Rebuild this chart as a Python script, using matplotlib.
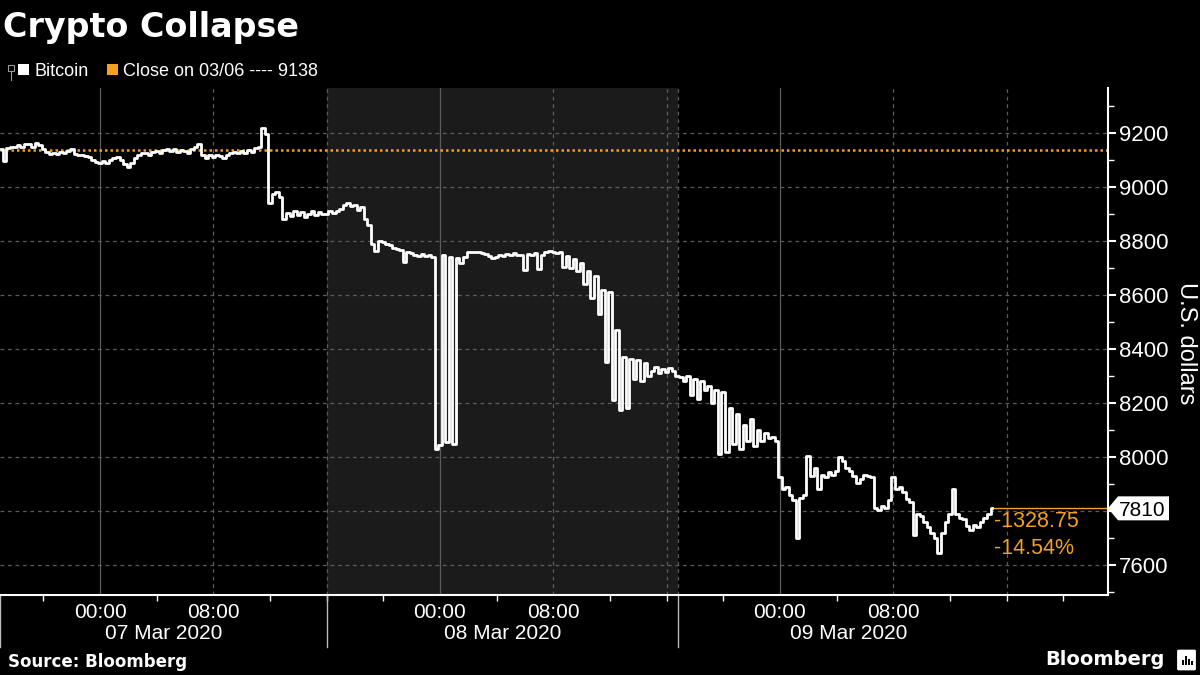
import numpy as np
import pandas as pd
import matplotlib
matplotlib.use("Agg")
import matplotlib.pyplot as plt
import matplotlib.dates as mdates
from matplotlib.patches import Rectangle, FancyBboxPatch, Polygon
from matplotlib.ticker import MultipleLocator, FixedLocator, FixedFormatter

plt.rcParams['font.family'] = ['Liberation Sans', 'DejaVu Sans']

# Bitcoin price, 15-minute samples from 06 Mar 17:00, one row per hour
btc_rows = [
    [9140, 9095, 9145, 9150], [9148, 9155, 9150, 9160], [9158, 9150, 9165, 9155],
    [9140, 9130, 9124, 9128], [9122, 9130, 9126, 9135], [9140, 9124, 9118, 9120],
    [9114, 9110, 9100, 9094],
    # 07 Mar
    [9090, 9096, 9088, 9100], [9106, 9110, 9100, 9086], [9074, 9090, 9108, 9120],
    [9125, 9128, 9120, 9130], [9135, 9128, 9138, 9140], [9134, 9142, 9130, 9138],
    [9132, 9125, 9140, 9150], [9160, 9120, 9108, 9118], [9112, 9120, 9114, 9108],
    [9118, 9125, 9130, 9126], [9132, 9126, 9136, 9130], [9145, 9150, 9218, 9195],
    [8940, 8975, 8982, 8965], [8882, 8905, 8893, 8910], [8898, 8906, 8890, 8900],
    [8910, 8898, 8906, 8902], [8900, 8912, 8904, 8910], [8920, 8935, 8942, 8930],
    [8935, 8915, 8925, 8880], [8860, 8790, 8765, 8800], [8795, 8788, 8784, 8775],
    [8770, 8766, 8722, 8760], [8755, 8750, 8745, 8752], [8745, 8748, 8742, 8030],
    # 08 Mar
    [8045, 8750, 8055, 8740], [8050, 8738, 8718, 8740], [8758, 8759, 8759, 8760],
    [8755, 8752, 8745, 8738], [8742, 8750, 8745, 8752], [8748, 8755, 8750, 8750],
    [8694, 8752, 8748, 8755], [8696, 8750, 8758, 8762], [8758, 8755, 8760, 8705],
    [8745, 8700, 8735, 8690], [8720, 8640, 8690, 8590], [8670, 8530, 8620, 8352],
    [8610, 8210, 8470, 8175], [8370, 8180, 8365, 8290], [8360, 8280, 8350, 8300],
    [8320, 8335, 8310, 8325], [8315, 8330, 8320, 8300], [8295, 8280, 8300, 8230],
    [8290, 8215, 8280, 8250], [8265, 8200, 8250, 8010], [8240, 8020, 8180, 8050],
    [8160, 8030, 8120, 8060], [8140, 8040, 8100, 8060], [8090, 8070, 8075, 8060],
    # 09 Mar
    [7925, 7880, 7890, 7860], [7840, 7700, 7850, 7860], [8005, 7930, 7960, 7880],
    [7935, 7925, 7945, 7935], [7950, 8000, 7985, 7960], [7950, 7930, 7905, 7920],
    [7935, 7930, 7925, 7810], [7805, 7820, 7810, 7840], [7925, 7880, 7890, 7870],
    [7845, 7835, 7710, 7790], [7780, 7760, 7740, 7720], [7700, 7645, 7720, 7760],
    [7790, 7880, 7790, 7775], [7770, 7745, 7730, 7750], [7740, 7760, 7775, 7790],
]
btc = [v for row in btc_rows for v in row] + [7810]
times = pd.date_range("2020-03-06 17:00", periods=len(btc), freq="15min")

prev_close = 9138.75
x_range = ("2020-03-06 16:56", "2020-03-09 23:10")
weekend = ("2020-03-07 16:00", "2020-03-08 16:50")
day_edges = ["2020-03-06 16:56", "2020-03-07 16:00", "2020-03-08 16:50", "2020-03-09 16:50"]
day_labels = ["07 Mar 2020", "08 Mar 2020", "09 Mar 2020"]
y_ticks = [7600, 7800, 8000, 8200, 8400, 8600, 8800, 9000, 9200]
y_labels = ["7600", "", "8000", "8200", "8400", "8600", "8800", "9000", "9200"]

orange = '#f5a01e'
grid_c = '#5c5c5c'

def d(s):
    return mdates.date2num(pd.Timestamp(s))

fig = plt.figure(figsize=(12, 6.75), dpi=100, facecolor='black')
ax = fig.add_axes([0, 80 / 675, 1108 / 1200, 507 / 675], facecolor='black')

ax.axvspan(d(weekend[0]), d(weekend[1]), color='#1b1b1b', zorder=0, lw=0)

# gridlines
for t in pd.date_range("2020-03-06 16:00", "2020-03-09 23:00", freq="8h"):
    if t.hour == 0:
        ax.axvline(d(t), color=grid_c, lw=0.9, zorder=1)
    else:
        ax.axvline(d(t), color=grid_c, lw=0.9, ls=(0, (3, 3)), zorder=1)
ax.axvline(d(weekend[1]), color=grid_c, lw=0.9, ls=(0, (3, 3)), zorder=1)
for yv in y_ticks:
    ax.axhline(yv, color=grid_c, lw=0.9, ls=(0, (3, 3)), zorder=1)

ax.axhline(prev_close, color=orange, lw=1.8, ls=(0, (1, 1.2)), zorder=2)
ax.plot(times, btc, color='white', lw=2.0, zorder=3, drawstyle='steps-mid')

last = btc[-1]
ax.plot([times[-1], pd.Timestamp(x_range[1])], [last, last], color=orange, lw=1.0, zorder=2)

ax.set_xlim(d(x_range[0]), d(x_range[1]))
ax.set_ylim(7489, 9367)

for s in ['top', 'left']:
    ax.spines[s].set_visible(False)
for s in ['bottom', 'right']:
    ax.spines[s].set_color('white')
    ax.spines[s].set_linewidth(1.5)

ax.yaxis.tick_right()
ax.yaxis.set_major_locator(FixedLocator(y_ticks))
ax.yaxis.set_major_formatter(FixedFormatter(y_labels))
ax.yaxis.set_minor_locator(MultipleLocator(100))
ax.tick_params(axis='y', which='major', length=6, width=1.5, colors='white',
               labelsize=16, pad=2)
ax.tick_params(axis='y', which='minor', length=4, width=1, colors='white')

ax.xaxis.set_major_locator(mdates.HourLocator(byhour=[0, 8]))
ax.xaxis.set_major_formatter(mdates.DateFormatter('%H:%M'))
ax.xaxis.set_minor_locator(mdates.HourLocator(byhour=[4, 12, 16, 20]))
ax.tick_params(axis='x', which='major', length=0, colors='white', labelsize=15, pad=6)
ax.tick_params(axis='x', which='minor', length=4, width=1, colors='white')

tr = ax.get_xaxis_transform()
for i, lab in enumerate(day_labels):
    c = (d(day_edges[i]) + d(day_edges[i + 1])) / 2
    ax.text(c, -0.075, lab, transform=tr, ha='center', va='center',
            fontsize=15, color='white')
for e in day_edges[:3]:
    ax.plot([d(e), d(e)], [0, -0.103], transform=tr, color='#bbbbbb', lw=1,
            clip_on=False)

# last price box (drawn in pixel space next to the right spine)
chg = last - prev_close
pct = chg / prev_close * 100
fig.canvas.draw()
sx, sy = ax.transData.transform((d(x_range[1]), last))
box = Polygon([(sx, sy), (sx + 10, sy + 12), (sx + 61, sy + 12), (sx + 61, sy - 12),
               (sx + 10, sy - 12)], closed=True, transform=None, fc='white', ec='none',
              zorder=5)
fig.add_artist(box)
fig.text((sx + 11) / 1200, sy / 675, f"{last:.0f}", ha='left', va='center_baseline',
         fontsize=15, color='black', zorder=6)

ax.annotate(f"{chg:.2f}", xy=(times[-1], last), xytext=(1, -2),
            textcoords='offset points', ha='left', va='top', color=orange, fontsize=15.5)
ax.annotate(f"{pct:.2f}%", xy=(times[-1], last), xytext=(1, -21),
            textcoords='offset points', ha='left', va='top', color=orange, fontsize=15.5)

fig.text(1186 / 1200, 1 - 343 / 675, 'U.S. dollars', rotation=270, ha='center',
         va='center', fontsize=17, color='white')

# title, legend, footer
fig.text(3 / 1200, 1 - 37 / 675, 'Crypto Collapse', fontsize=24, weight='bold',
         color='white', va='baseline', family='DejaVu Sans')
fig.add_artist(Rectangle((8 / 1200, 1 - 71 / 675), 6 / 1200, 6 / 675, fill=False,
                         ec='#999999', lw=0.8))
fig.add_artist(plt.Line2D([11 / 1200, 11 / 1200], [1 - 71 / 675, 1 - 80 / 675],
                          color='#999999', lw=0.8))
fig.add_artist(Rectangle((18 / 1200, 1 - 75 / 675), 11 / 1200, 11 / 675, color='white', lw=0))
fig.text(34 / 1200, 1 - 75.5 / 675, 'Bitcoin', fontsize=13, color='white', va='baseline')
fig.add_artist(Rectangle((107 / 1200, 1 - 75 / 675), 11 / 1200, 11 / 675, color=orange, lw=0))
fig.text(123 / 1200, 1 - 75.5 / 675, 'Close on 03/06 ---- 9138',
         fontsize=13, color='white', va='baseline')

fig.text(8 / 1200, 1 - 667 / 675, 'Source: Bloomberg', fontsize=12, weight='bold',
         color='white', va='baseline', family='DejaVu Sans')
fig.text(1165 / 1200, 1 - 665 / 675, 'Bloomberg', fontsize=14, weight='bold',
         color='white', va='baseline', ha='right', family='DejaVu Sans')
fig.add_artist(FancyBboxPatch((1179 / 1200, 1 - 669 / 675), 15 / 1200, 18 / 675,
                              boxstyle='round,pad=0.001', fc='white', ec='white'))
for bx, bh in [(1182, 5), (1185, 9), (1188, 6), (1191, 4)]:
    fig.add_artist(Rectangle((bx / 1200, 1 - 665 / 675), 1.6 / 1200, bh / 675,
                             color='black', lw=0))

fig.savefig('out.png', dpi=100, facecolor='black')
